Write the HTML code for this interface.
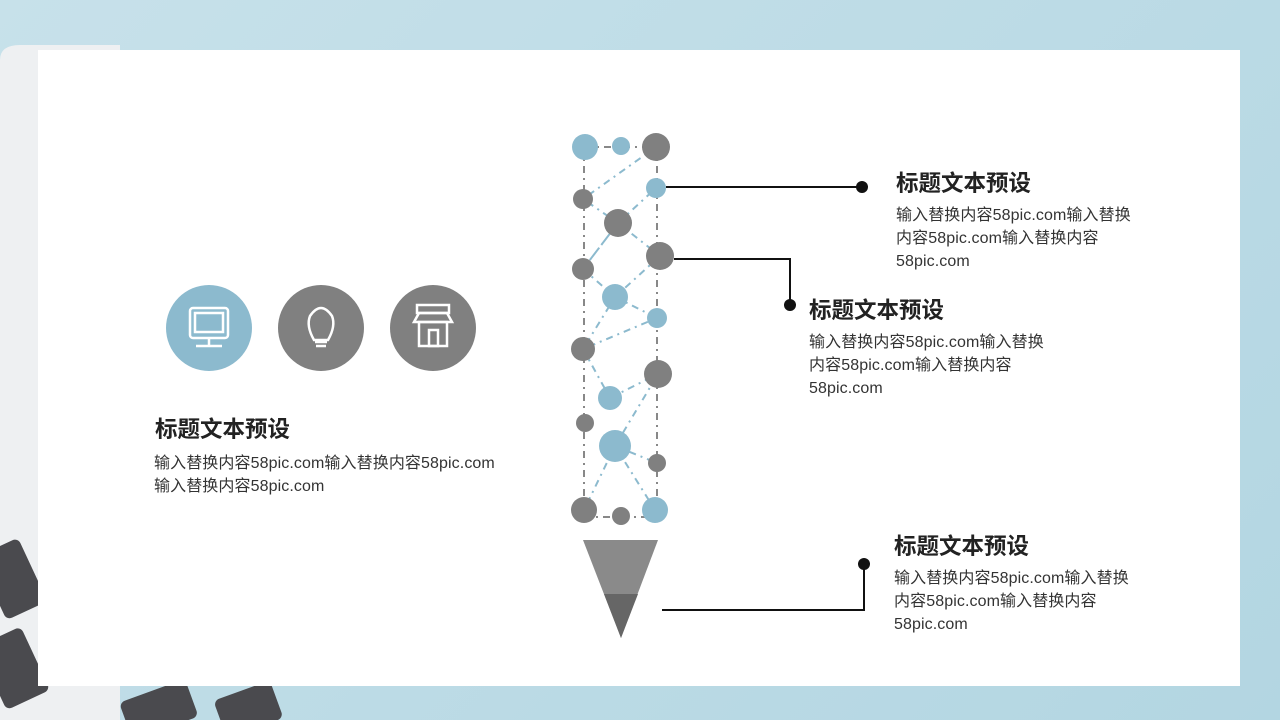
<!DOCTYPE html>
<html><head><meta charset="utf-8"><style>
html,body{margin:0;padding:0}
body{width:1280px;height:720px;position:relative;overflow:hidden;background:linear-gradient(135deg,#c7e1ea,#b3d6e2);font-family:"Liberation Sans","Noto Sans CJK SC",sans-serif}
.t{position:absolute;font-size:22.5px;font-weight:bold;color:#222;white-space:nowrap}
.p{position:absolute;font-size:16px;line-height:23px;color:#333;white-space:nowrap;letter-spacing:0.1px}
</style></head><body>
<svg width="1280" height="720" style="position:absolute;left:0;top:0">
<path d="M0,60 Q0,45 20,45 L120,45 L120,720 L0,720Z" fill="#eef0f2"/>
<g fill="#4a4a4e">
<rect x="-10" y="545" width="45" height="70" rx="6" transform="rotate(-25 10 580)"/>
<rect x="-10" y="635" width="48" height="70" rx="6" transform="rotate(-25 10 670)"/>
<rect x="120" y="692" width="70" height="40" rx="6" transform="rotate(-20 150 700)"/>
<rect x="215" y="690" width="60" height="40" rx="6" transform="rotate(-20 245 700)"/>
</g>
<rect x="38" y="50" width="1202" height="636" fill="#fff"/>
<circle cx="209" cy="328" r="43" fill="#8cbace"/>
<circle cx="321" cy="328" r="43" fill="#808080"/>
<circle cx="433" cy="328" r="43" fill="#808080"/>
<g fill="none" stroke="#fff" stroke-width="2.5">
<rect x="190" y="308" width="38" height="30" rx="3"/><rect x="195" y="313" width="28" height="19"/>
<line x1="209" y1="338" x2="209" y2="345"/><line x1="196" y1="346" x2="222" y2="346"/>
<path d="M314,340 Q306,326 310,316 Q321,300 332,316 Q336,326 328,340Z"/>
<line x1="315" y1="342" x2="327" y2="342"/><line x1="316" y1="346" x2="326" y2="346"/>
<rect x="417" y="305" width="32" height="8"/><path d="M414,322 L419,313 L447,313 L452,322Z"/>
<rect x="419" y="322" width="28" height="24"/><rect x="429" y="330" width="9" height="16"/>
</g>
<g stroke="#888" stroke-width="2" stroke-dasharray="7,5,2,5" fill="none">
<line x1="584" y1="147" x2="584" y2="510"/><line x1="657" y1="147" x2="657" y2="510"/>
<line x1="585" y1="147" x2="656" y2="147"/><line x1="584" y1="517" x2="655" y2="517"/>
</g>
<g stroke="#8cbace" stroke-width="2" stroke-dasharray="7,5,2,5" fill="none">
<polyline points="656,147 583,199 618,223 656,188"/>
<polyline points="618,223 583,269 618,223 660,256 615,297 583,269"/>
<polyline points="615,297 657,318 583,349 615,297"/>
<polyline points="583,349 610,398 658,374 615,446 657,463"/>
<polyline points="615,446 584,510"/><polyline points="615,446 655,510"/>
</g>
<g fill="#8cbace">
<circle cx="585" cy="147" r="13"/><circle cx="621" cy="146" r="9"/><circle cx="656" cy="188" r="10"/>
<circle cx="615" cy="297" r="13"/><circle cx="657" cy="318" r="10"/><circle cx="610" cy="398" r="12"/>
<circle cx="615" cy="446" r="16"/><circle cx="655" cy="510" r="13"/>
</g>
<g fill="#808080">
<circle cx="656" cy="147" r="14"/><circle cx="583" cy="199" r="10"/><circle cx="618" cy="223" r="14"/>
<circle cx="583" cy="269" r="11"/><circle cx="660" cy="256" r="14"/><circle cx="583" cy="349" r="12"/>
<circle cx="658" cy="374" r="14"/><circle cx="585" cy="423" r="9"/><circle cx="657" cy="463" r="9"/>
<circle cx="584" cy="510" r="13"/><circle cx="621" cy="516" r="9"/>
</g>
<polygon points="583,540 658,540 621,638" fill="#8a8a8a"/>
<polygon points="604,594 638,594 621,638" fill="#666"/>
<g stroke="#111" stroke-width="2" fill="none">
<polyline points="666,187 862,187"/><polyline points="674,259 790,259 790,305"/>
<polyline points="662,610 864,610 864,564"/>
</g>
<g fill="#111"><circle cx="862" cy="187" r="6"/><circle cx="790" cy="305" r="6"/><circle cx="864" cy="564" r="6"/></g>
</svg>
<div class="t" style="left:155px;top:412px">标题文本预设</div>
<div class="p" style="left:154px;top:452px">输入替换内容58pic.com输入替换内容58pic.com<br>输入替换内容58pic.com</div>
<div class="t" style="left:896px;top:166px">标题文本预设</div>
<div class="p" style="left:896px;top:204px">输入替换内容58pic.com输入替换<br>内容58pic.com输入替换内容<br>58pic.com</div>
<div class="t" style="left:809px;top:293px">标题文本预设</div>
<div class="p" style="left:809px;top:331px">输入替换内容58pic.com输入替换<br>内容58pic.com输入替换内容<br>58pic.com</div>
<div class="t" style="left:894px;top:529px">标题文本预设</div>
<div class="p" style="left:894px;top:567px">输入替换内容58pic.com输入替换<br>内容58pic.com输入替换内容<br>58pic.com</div>
</body></html>
